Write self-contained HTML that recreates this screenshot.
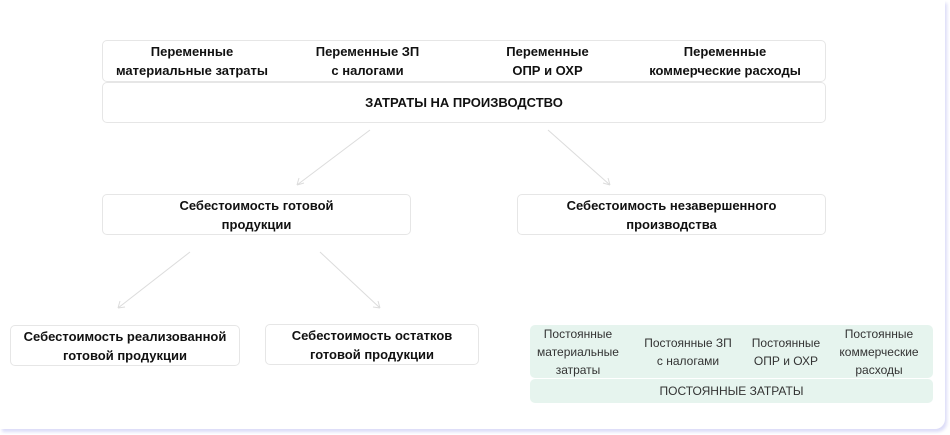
<!DOCTYPE html>
<html><head><meta charset="utf-8"><style>
body{margin:0;width:950px;height:435px;background:#fff;font-family:"Liberation Sans",sans-serif;position:relative;overflow:hidden}
.card{position:absolute;left:0;top:0;width:945px;height:429px;background:#fff;border-radius:0 0 10px 0;box-shadow:2px 3px 3px #dcdcf8}
.b{position:absolute;box-sizing:border-box;border:1px solid #e6e6e6;border-radius:5px;background:#fff;display:flex;align-items:center;justify-content:center;text-align:center;font-weight:bold;font-size:13px;line-height:19px;color:#111}
.g{position:absolute;box-sizing:border-box;background:#e6f4ee;border-radius:5px;font-size:12px;line-height:18px;color:#333}
.gc{position:absolute;top:0;height:53px;display:flex;align-items:center;justify-content:center;text-align:center}
.c{position:absolute;text-align:center;font-weight:bold;font-size:13px;line-height:19px;color:#111}
</style></head><body>
<div class="card"></div>
<div class="b" style="left:102px;top:40px;width:724px;height:42px"></div>
<div class="c" style="left:102px;top:42px;width:180px">Переменные<br>материальные затраты</div>
<div class="c" style="left:290px;top:42px;width:155px">Переменные ЗП<br>с налогами</div>
<div class="c" style="left:480px;top:42px;width:135px">Переменные<br>ОПР и ОХР</div>
<div class="c" style="left:630px;top:42px;width:190px">Переменные<br>коммерческие расходы</div>
<div class="b" style="left:102px;top:82px;width:724px;height:41px">ЗАТРАТЫ НА ПРОИЗВОДСТВО</div>
<div class="b" style="left:102px;top:194px;width:309px;height:41px">Себестоимость готовой<br>продукции</div>
<div class="b" style="left:517px;top:194px;width:309px;height:41px">Себестоимость незавершенного<br>производства</div>
<div class="b" style="left:10px;top:325px;width:230px;height:41px">Себестоимость реализованной<br>готовой продукции</div>
<div class="b" style="left:265px;top:324px;width:214px;height:41px">Себестоимость остатков<br>готовой продукции</div>
<div class="g" style="left:530px;top:325px;width:403px;height:53px">
<div class="gc" style="left:0;width:96px">Постоянные<br>материальные<br>затраты</div>
<div class="gc" style="left:96px;width:124px">Постоянные ЗП<br>с налогами</div>
<div class="gc" style="left:220px;width:72px">Постоянные<br>ОПР и ОХР</div>
<div class="gc" style="left:292px;width:114px">Постоянные<br>коммерческие<br>расходы</div>
</div>
<div class="g" style="left:530px;top:379px;width:403px;height:24px;display:flex;align-items:center;justify-content:center">ПОСТОЯННЫЕ ЗАТРАТЫ</div>
<svg width="950" height="435" style="position:absolute;left:0;top:0" fill="none" stroke="#dcdcdc" stroke-width="1">
<path d="M370 130L297 185M297 185l7-2M297 185l2-7"/>
<path d="M548 130L610 185M610 185l-7-2M610 185l-2-7"/>
<path d="M190 252L118 308M118 308l7-1M118 308l2-7"/>
<path d="M320 252L380 308M380 308l-7-1M380 308l-2-7"/>
</svg>
</body></html>
